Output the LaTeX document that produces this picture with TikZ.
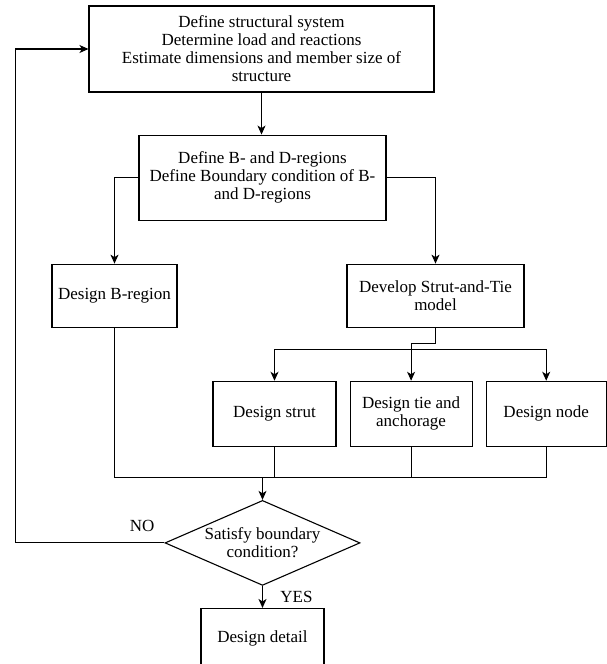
\documentclass[tikz,border=0pt]{standalone}
\usepackage{fontspec}
\setmainfont{Liberation Serif}
\usetikzlibrary{
    shapes,
    shapes.geometric,
    positioning,
    calc,
    arrows,
    arrows.meta
}
\tikzset{
  block/.style = {
      draw,
      rectangle,
      line width=1.1pt,
      inner sep=2pt,
      align=center,
      font=\fontsize{17}{18}\selectfont
  },
  decision/.style = {
      block,
      diamond,
      aspect=2.3,
      inner sep=0pt,
      minimum width=195pt,
      minimum height=85pt
  },
  line/.style = {
      draw,
      line width=1.1pt
  },
  arrow/.style = {
      line,
      -{Stealth[length=9pt, width=8pt, inset=2.5pt]}
  },
  label/.style = {
      font=\fontsize{17}{18}\selectfont
  }
}

\begin{document}
\begin{tikzpicture}[x=1pt, y=1pt]
    \useasboundingbox (0,0) rectangle (606,-664);
    % Nodes
    \node[block, minimum width=345pt, minimum height=86pt] (define) at (261.5,-49)
        {Define structural system\\Determine load and reactions\\Estimate dimensions and member size of\\structure};
    \node[block, minimum width=247pt, minimum height=85pt, below=42pt of define, xshift=1pt] (regions)
        {Define B- and D-regions\\Define Boundary condition of B-\\and D-regions};
    \node[block, minimum width=125pt, minimum height=63pt, below=43pt of regions, xshift=-148pt] (bregion)
        {Design B-region};
    \node[block, minimum width=177pt, minimum height=63pt, below=43pt of regions, xshift=173pt] (stm)
        {Develop Strut-and-Tie\\model};
    \node[block, minimum width=123pt, minimum height=65pt, below=53pt of stm, xshift=-161pt] (strut)
        {Design strut};
    \node[block, minimum width=122pt, minimum height=65pt, right=13pt of strut] (tie)
        {Design tie and\\anchorage};
    \node[block, minimum width=120pt, minimum height=65pt, right=13pt of tie] (nodebox)
        {Design node};
    \node[decision, below=53pt of strut, xshift=-12pt] (check)
        {Satisfy boundary\\condition?};
    \node[block, minimum width=123pt, minimum height=59pt, below=22pt of check] (detail)
        {Design detail};
    % Connectors
    \coordinate (split) at ([yshift=31pt]tie.north);
    \coordinate (merge) at ($(strut.south -| check.north)+(0,-31)$);
    \draw[arrow] (define.south) -- (define.south |- regions.north);
    \draw[arrow] (regions.west) -| (bregion.north);
    \draw[arrow] (regions.east) -| (stm.north);
    \draw[line] (stm.south) -- ++(0,-16) -| (split);
    \draw[arrow] (split) -- (tie.north);
    \draw[arrow] (split) -| (strut.north);
    \draw[arrow] (split) -| (nodebox.north);
    \draw[line] (bregion.south) |- (merge);
    \draw[line] (strut.south) |- (merge);
    \draw[line] (tie.south) |- (merge);
    \draw[line] (nodebox.south) |- (merge);
    \draw[arrow] (merge) -- (check.north);
    \draw[arrow] (check.west) -- node[label, above, pos=0.15, yshift=7pt] {NO} ++(-149,0) |- (define.west);
    \draw[arrow] (check.south) -- node[label, right, xshift=14pt] {YES} (detail.north);
\end{tikzpicture}
\end{document}
